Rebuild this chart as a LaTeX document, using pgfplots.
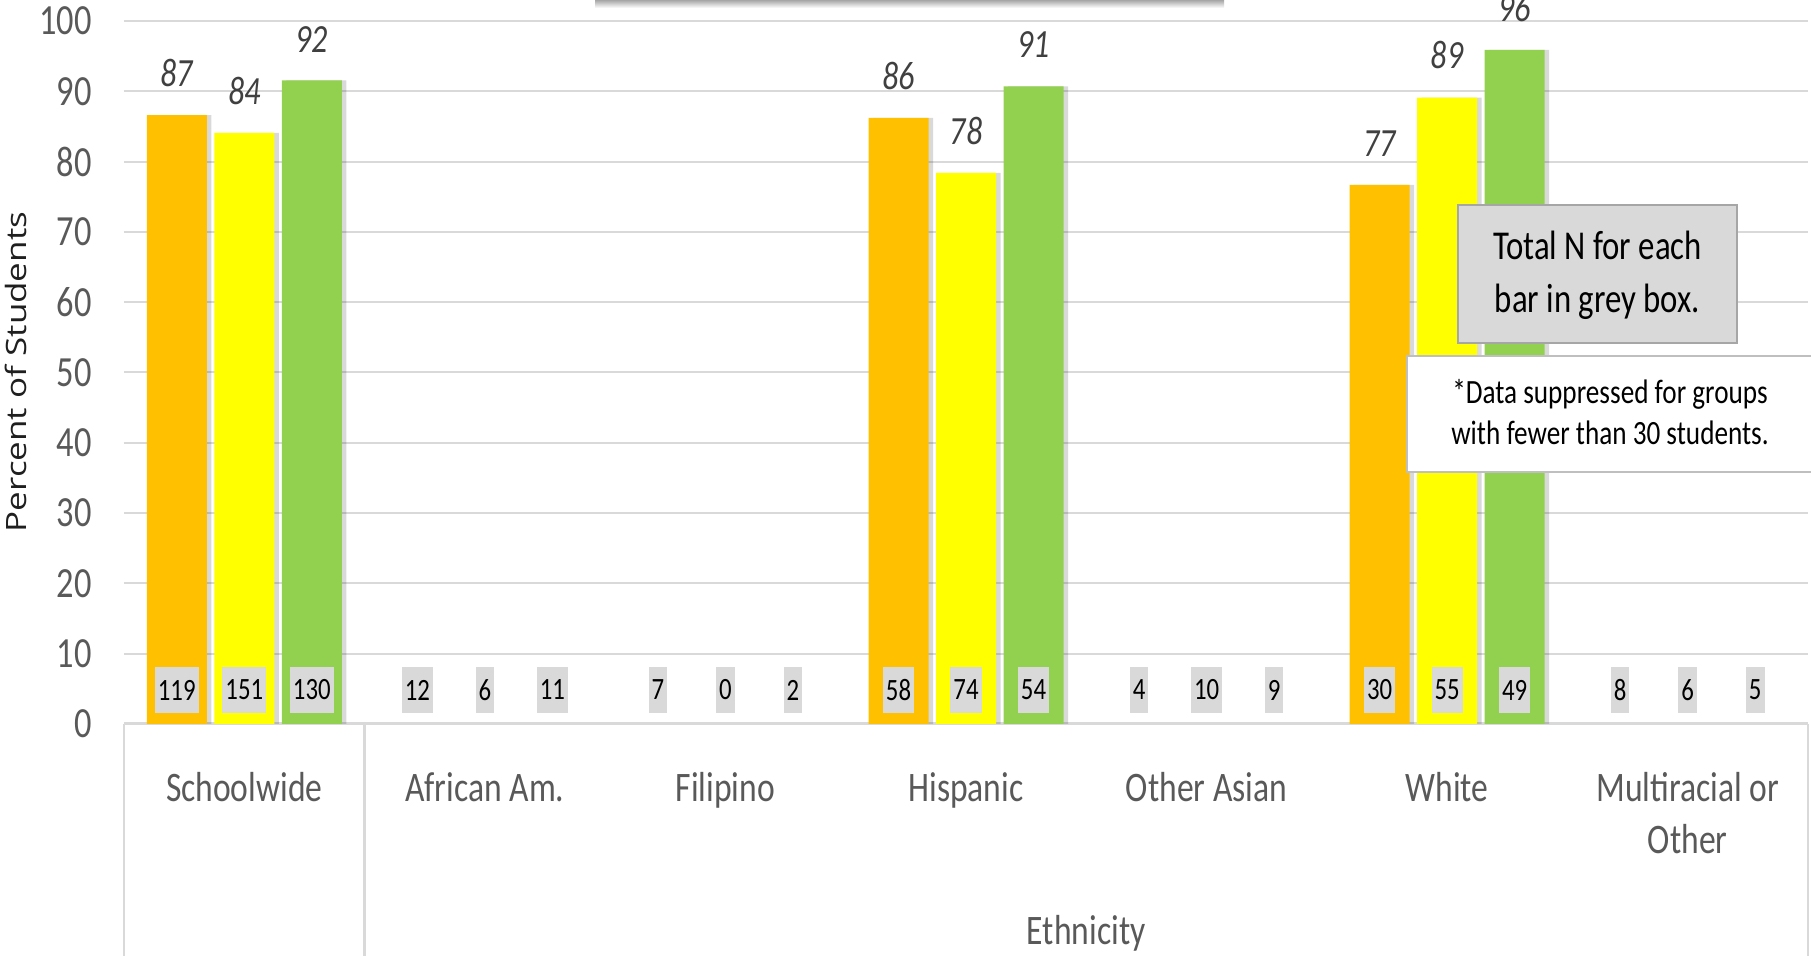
\documentclass[border=0pt]{standalone}
\usepackage{fontspec}
\setmainfont[FakeStretch=0.8]{Carlito}
\newfontfamily\ylabfont{Open Sans}
\usepackage{pgfplots}
\usepackage{pgfplotstable}
\pgfplotsset{compat=1.18}

\definecolor{orangeC}{HTML}{FFC000}
\definecolor{yellowC}{HTML}{FFFF00}
\definecolor{greenC}{HTML}{92D050}
\definecolor{gridC}{HTML}{D9D9D9}
\definecolor{tickC}{HTML}{595959}
\definecolor{dataC}{HTML}{404040}
\definecolor{boxC}{HTML}{D9D9D9}
\definecolor{boxBorder}{HTML}{A6A6A6}
\definecolor{boxTwoBorder}{HTML}{BFBFBF}
\definecolor{ylabC}{HTML}{1F1F1F}

% Percent of students (suppressed groups are left out)
\pgfplotstableread{
x y
0 86.6
3 86.2
5 76.7
}\tabA
\pgfplotstableread{
x y
0 84.1
3 78.4
5 89.1
}\tabB
\pgfplotstableread{
x y
0 91.54
3 90.7
5 95.9
}\tabC
% Total N for each bar
\pgfplotstableread{
x y n
-0.2806 4.84 119
0 4.84 151
0.2806 4.84 130
0.7194 4.84 12
1 4.84 6
1.2806 4.84 11
1.7194 4.84 7
2 4.84 0
2.2806 4.84 2
2.7194 4.84 58
3 4.84 74
3.2806 4.84 54
3.7194 4.84 4
4 4.84 10
4.2806 4.84 9
4.7194 4.84 30
5 4.84 55
5.2806 4.84 49
5.7194 4.84 8
6 4.84 6
6.2806 4.84 5
}\tabN

\begin{document}
\begin{tikzpicture}
\useasboundingbox (-62pt,-116pt) rectangle (843.5pt,362pt);
\begin{axis}[
  at={(0pt,0pt)}, anchor=south west,
  scale only axis, width=842pt, height=351.5pt,
  xmin=-0.5, xmax=6.5, ymin=0, ymax=100,
  ytick={0,10,20,30,40,50,60,70,80,90,100}, xtick=\empty,
  ymajorgrids, grid style={color=gridC, line width=1pt},
  axis lines*=left,
  y axis line style={draw=none},
  x axis line style={color=gridC, line width=1.5pt},
  major tick length=0pt,
  yticklabel style={font=\fontsize{21.5}{22}\selectfont, text=tickC, anchor=east, inner sep=0pt, xshift=-16pt},
  /pgf/number format/assume math mode=true,
  clip=false,
]
% shadows
\addplot[ybar, bar width=30pt, bar shift=-31.5pt, fill=black, draw=none, opacity=0.15, forget plot] table[x=x,y=y] {\tabA};
\addplot[ybar, bar width=30pt, bar shift=2.25pt, fill=black, draw=none, opacity=0.15, forget plot] table[x=x,y=y] {\tabB};
\addplot[ybar, bar width=30pt, bar shift=36pt, fill=black, draw=none, opacity=0.15, forget plot] table[x=x,y=y] {\tabC};
% bars
\addplot[ybar, bar width=30pt, bar shift=-33.75pt, fill=orangeC, draw=none,
  nodes near coords={\pgfmathprintnumber[fixed,precision=0]{\pgfplotspointmeta}},
  every node near coord/.append style={anchor=south, inner sep=0pt, xshift=-33.75pt, yshift=14pt, text=dataC, font=\itshape\fontsize{20}{20}\selectfont}]
  table[x=x,y=y] {\tabA};
\addplot[ybar, bar width=30pt, bar shift=0pt, fill=yellowC, draw=none,
  nodes near coords={\pgfmathprintnumber[fixed,precision=0]{\pgfplotspointmeta}},
  every node near coord/.append style={anchor=south, inner sep=0pt, yshift=14pt, text=dataC, font=\itshape\fontsize{20}{20}\selectfont}]
  table[x=x,y=y] {\tabB};
\addplot[ybar, bar width=30pt, bar shift=33.75pt, fill=greenC, draw=none,
  nodes near coords={\pgfmathprintnumber[fixed,precision=0]{\pgfplotspointmeta}},
  every node near coord/.append style={anchor=south, inner sep=0pt, xshift=33.75pt, yshift=14pt, text=dataC, font=\itshape\fontsize{20}{20}\selectfont}]
  table[x=x,y=y] {\tabC};
% N labels
\addplot[draw=none, mark=none, nodes near coords, point meta=explicit symbolic,
  every node near coord/.append style={anchor=center, fill=boxC, draw=none, inner xsep=1.5pt, inner ysep=0pt, minimum height=23pt, text=black, font=\fontsize{15.5}{16}\selectfont}]
  table[x=x,y=y,meta=n] {\tabN};
\end{axis}

% category box lines
\draw[gridC, line width=1.3pt] (0pt,0pt) -- (0pt,-120pt);
\draw[gridC, line width=1.3pt] (120.2857pt,0pt) -- (120.2857pt,-120pt);
\draw[gridC, line width=1.3pt] (842pt,0pt) -- (842pt,-120pt);

% category labels
\foreach \i/\t in {0/Schoolwide,1/African Am.,2/Filipino,3/Hispanic,4/Other Asian,5/White,6/Multiracial or}
  \node[anchor=base, inner sep=0pt, text=tickC, font=\fontsize{21}{21}\selectfont] at ({(\i+0.5)*120.2857pt},-38.8pt) {\t};
\node[anchor=base, inner sep=0pt, text=tickC, font=\fontsize{21}{21}\selectfont] at (781.857pt,-64.8pt) {Other};
\node[anchor=base, inner sep=0pt, text=tickC, font=\fontsize{21}{21}\selectfont] at (481.14pt,-110.5pt) {Ethnicity};

% y label
\begin{scope}[shift={(-54pt,176pt)}]
  \node[xscale=0.8, rotate=90, inner sep=0pt, text=ylabC, font=\ylabfont\fontsize{17.5}{18}\selectfont] at (0,0) {Percent of Students};
\end{scope}

% note boxes
\draw[fill=boxC, draw=boxBorder, line width=1.2pt] (667pt,190.5pt) rectangle (806.5pt,259.5pt);
\node[anchor=base, inner sep=0pt, text=black, font=\fontsize{20.5}{21}\selectfont] at (736.75pt,232pt) {Total N for each};
\node[anchor=base, inner sep=0pt, text=black, font=\fontsize{20.5}{21}\selectfont] at (736.75pt,205.5pt) {bar in grey box.};

\draw[fill=white, draw=boxTwoBorder, line width=1.2pt] (641.5pt,126pt) rectangle (850pt,184pt);
\node[anchor=base, inner sep=0pt, text=black, font=\fontsize{17}{17}\selectfont] at (743pt,160pt) {*Data suppressed for groups};
\node[anchor=base, inner sep=0pt, text=black, font=\fontsize{17}{17}\selectfont] at (743pt,139.5pt) {with fewer than 30 students.};

% shadow of the title box above (cut off)
\shade[top color=black!35, bottom color=white] (235.5pt,358pt) rectangle (550pt,362pt);
\end{tikzpicture}
\end{document}
